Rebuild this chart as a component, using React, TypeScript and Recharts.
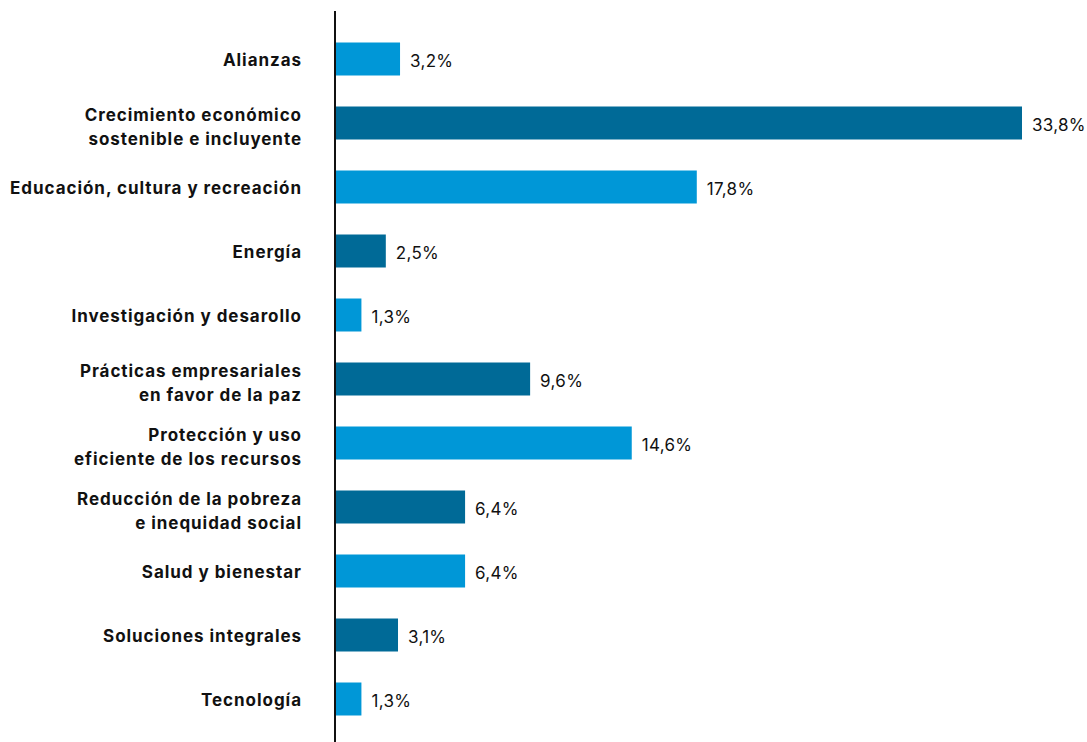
import React from 'react';
import { BarChart, Bar, XAxis, YAxis, Cell, LabelList } from 'recharts';

const categories: string[] = [
  'Alianzas',
  'Crecimiento económico\nsostenible e incluyente',
  'Educación, cultura y recreación',
  'Energía',
  'Investigación y desarollo',
  'Prácticas empresariales\nen favor de la paz',
  'Protección y uso\neficiente de los recursos',
  'Reducción de la pobreza\ne inequidad social',
  'Salud y bienestar',
  'Soluciones integrales',
  'Tecnología',
];

const values: number[] = [3.2, 33.8, 17.8, 2.5, 1.3, 9.6, 14.6, 6.4, 6.4, 3.1, 1.3];

const LIGHT = '#0097D7';
const DARK = '#006A97';
const FONT = 'Inter, "Noto Sans", sans-serif';

const data = categories.map((c, i) => ({ name: c, value: values[i] }));

const CategoryTick = (props: any) => {
  const { x, y, payload } = props;
  const lines: string[] = String(payload.value).split('\n');
  const common = {
    textAnchor: 'end' as const,
    fontFamily: FONT,
    fontWeight: 700,
    fontSize: 17,
    fill: '#111',
    letterSpacing: 0.95,
  };
  if (lines.length === 1) {
    return (
      <text x={x} y={y + 7} {...common}>
        {lines[0]}
      </text>
    );
  }
  return (
    <text x={x} y={y} {...common}>
      <tspan x={x} y={y - 1.5}>{lines[0]}</tspan>
      <tspan x={x} y={y + 22}>{lines[1]}</tspan>
    </text>
  );
};

const fmt = (v: any) => `${Number(v).toFixed(1).replace('.', ',')}%`;

const ValueLabel = (props: any) => {
  const { x, y, width, height, value } = props;
  return (
    <text
      x={x + width + 10}
      y={y + height / 2 + 7.5}
      fontFamily={FONT}
      fontSize={17}
      fill="#111"
      letterSpacing={0.3}
    >
      {fmt(value)}
    </text>
  );
};

export default function App() {
  return (
    <div style={{ position: 'absolute', left: 0, top: 0, background: '#fff' }}>
      <BarChart
        width={1087}
        height={742}
        data={data}
        layout="vertical"
        margin={{ top: 11, right: 65, bottom: 0, left: 0 }}
      >
        <XAxis type="number" hide domain={[0, 33.8]} />
        <YAxis
          type="category"
          dataKey="name"
          width={335}
          tickLine={false}
          tickSize={0}
          tickMargin={33}
          axisLine={{ stroke: '#111', strokeWidth: 2 }}
          padding={{ top: 15.5, bottom: 11.5 }}
          tick={<CategoryTick />}
          interval={0}
        />
        <Bar dataKey="value" barSize={33} isAnimationActive={false}>
          {data.map((_, i) => (
            <Cell key={i} fill={i % 2 === 0 ? LIGHT : DARK} />
          ))}
          <LabelList dataKey="value" content={<ValueLabel />} />
        </Bar>
      </BarChart>
    </div>
  );
}
